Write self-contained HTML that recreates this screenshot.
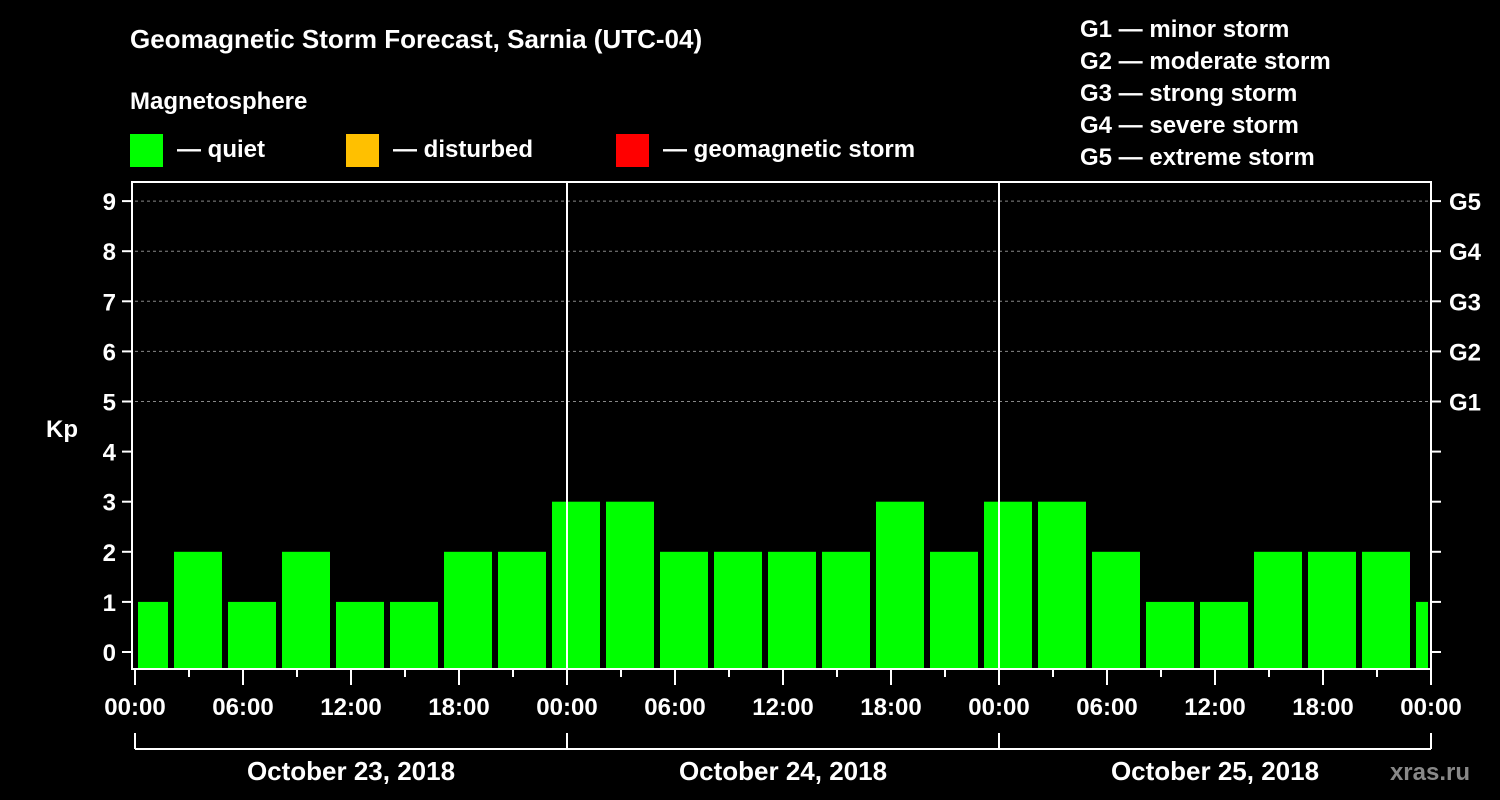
<!DOCTYPE html>
<html><head><meta charset="utf-8"><style>
body{margin:0;background:#000;}
svg{display:block;}
svg text{font-family:"Liberation Sans",Arial,sans-serif;font-weight:bold;}
</style></head><body>
<svg id="chart" width="1500" height="800" viewBox="0 0 1500 800" font-family="Liberation Sans, Arial, sans-serif" font-weight="bold">
<rect width="1500" height="800" fill="#000"/>
<text x="130" y="48" fill="#fff" font-size="26">Geomagnetic Storm Forecast, Sarnia (UTC-04)</text>
<text x="130" y="109" fill="#fff" font-size="24">Magnetosphere</text>
<g><rect x="130" y="134" width="33" height="33" fill="#00ff00"/><text x="177" y="157" fill="#fff" font-size="24">— quiet</text></g>
<g><rect x="346" y="134" width="33" height="33" fill="#ffc000"/><text x="393" y="157" fill="#fff" font-size="24">— disturbed</text></g>
<g><rect x="616" y="134" width="33" height="33" fill="#ff0000"/><text x="663" y="157" fill="#fff" font-size="24">— geomagnetic storm</text></g>
<g fill="#fff" font-size="24">
<text x="1080" y="37">G1 — minor storm</text>
<text x="1080" y="69">G2 — moderate storm</text>
<text x="1080" y="101">G3 — strong storm</text>
<text x="1080" y="133">G4 — severe storm</text>
<text x="1080" y="165">G5 — extreme storm</text>
</g>
<text x="62" y="437" fill="#fff" font-size="24" text-anchor="middle">Kp</text>
<text x="1470" y="780" fill="#888" font-size="24" text-anchor="end">xras.ru</text>
<g id="plot"></g>
</svg>
<script>
const kpValues=[1,2,1,2,1,1,2,2,3,3,2,2,2,2,3,2,3,3,2,1,1,2,2,2,1];
const startHour=-1;
const yTicks=[0,1,2,3,4,5,6,7,8,9];
const gLabels=["G1","G2","G3","G4","G5"];
const xLabels=["00:00","06:00","12:00","18:00","00:00","06:00","12:00","18:00","00:00","06:00","12:00","18:00","00:00"];
const dayLabels=["October 23, 2018","October 24, 2018","October 25, 2018"];
const NS="http://www.w3.org/2000/svg";
const g=document.getElementById('plot');
const X=h=>135+18*h, Y=k=>652-50.1*k;
const plotTop=182,plotBot=668;
function el(t,a,txt){const e=document.createElementNS(NS,t);for(const k in a)e.setAttribute(k,a[k]);if(txt!==undefined)e.textContent=txt;g.appendChild(e);return e;}
for(let k=5;k<=9;k++){const e=el('line',{x1:X(0),x2:X(72),y1:Y(k),y2:Y(k),stroke:'#888','stroke-dasharray':'3,3'});

}
kpValues.forEach((v,i)=>{const h0=startHour+3*i;let x1=Math.max(X(h0)+3,X(0)+3),x2=Math.min(X(h0+3)-3,X(72)-3);
const c=v>=5?'#ff0000':(v>=4?'#ffc000':'#00ff00');
const e=el('rect',{x:x1,y:Y(v),width:x2-x1,height:plotBot-Y(v),fill:c});

});
[1,2].forEach(d=>{const e=el('line',{x1:X(24*d),x2:X(24*d),y1:plotTop,y2:plotBot,stroke:'#fff','stroke-width':2});

});
const fr=el('rect',{x:132,y:plotTop,width:X(72)-132,height:plotBot-plotTop+1,fill:'none',stroke:'#fff','stroke-width':2});


yTicks.forEach(k=>{el('line',{x1:122,x2:132,y1:Y(k),y2:Y(k),stroke:'#fff','stroke-width':2});
el('line',{x1:X(72),x2:X(72)+10,y1:Y(k),y2:Y(k),stroke:'#fff','stroke-width':2});
const t=el('text',{x:116,y:Y(k)+9,fill:'#fff','font-size':24,'text-anchor':'end'},String(k));

});
gLabels.forEach((s,i)=>{const t=el('text',{x:1449,y:Y(5+i)+9,fill:'#fff','font-size':24},s);

});
for(let h=0;h<=72;h+=3){el('line',{x1:X(h),x2:X(h),y1:plotBot,y2:h%6==0?685:677,stroke:'#fff','stroke-width':2});}
xLabels.forEach((s,i)=>{const t=el('text',{x:X(6*i),y:715,fill:'#fff','font-size':24,'text-anchor':'middle'},s);

});
el('line',{x1:X(0),x2:X(72),y1:749,y2:749,stroke:'#fff','stroke-width':2});
for(let d=0;d<=3;d++)el('line',{x1:X(24*d),x2:X(24*d),y1:733,y2:749,stroke:'#fff','stroke-width':2});
dayLabels.forEach((s,i)=>{const t=el('text',{x:X(24*i+12),y:780,fill:'#fff','font-size':26,'text-anchor':'middle'},s);

});
</script>
</body></html>
